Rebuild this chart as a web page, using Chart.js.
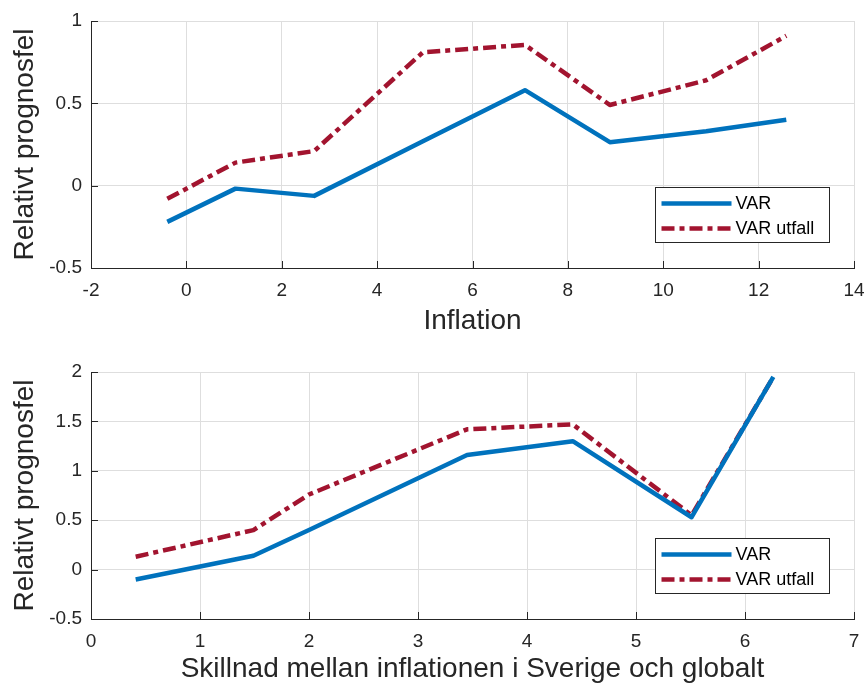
<!DOCTYPE html>
<html>
<head>
<meta charset="utf-8">
<script src="https://cdn.jsdelivr.net/npm/chart.js@4.4.1/dist/chart.umd.min.js"></script>
<style>
  html, body { margin: 0; padding: 0; background: #fff; overflow: hidden; }
  .wrap { position: absolute; left: 0; width: 867px; }
  #top { top: 0; height: 340px; }
  #bottom { top: 340px; height: 344px; }
</style>
</head>
<body>
<div class="wrap" id="top"><canvas id="chart1"></canvas></div>
<div class="wrap" id="bottom"><canvas id="chart2"></canvas></div>
<script>
// top panel: inflation
const inflX = [-0.4, 1.03, 2.68, 4.96, 7.1, 8.88, 10.9, 12.58]
const inflVar = [-0.22, -0.018, -0.062, 0.27, 0.58, 0.264, 0.33, 0.40]
const inflUtfall = [-0.08, 0.14, 0.21, 0.81, 0.855, 0.49, 0.64, 0.91]

// bottom panel: difference Sweden vs global
const diffX = [0.41, 1.49, 2.0, 3.45, 4.42, 5.51, 6.26]
const diffVar = [-0.10, 0.14, 0.40, 1.16, 1.30, 0.53, 1.95]
const diffUtfall = [0.13, 0.40, 0.76, 1.42, 1.47, 0.55, 1.95]

const seriesNames = ['VAR', 'VAR utfall']
const xTicks1 = [-2, 0, 2, 4, 6, 8, 10, 12, 14]
const yTicks1 = [-0.5, 0, 0.5, 1]
const xTicks2 = [0, 1, 2, 3, 4, 5, 6, 7]
const yTicks2 = [-0.5, 0, 0.5, 1, 1.5, 2]

const FONT = "'Liberation Sans', Arial, Helvetica, sans-serif"
const TEXT = '#262626'
const BLUE = '#0072BD'
const RED = '#A2142F'
const DASH = [13, 5, 5, 5]

function pts(xs, ys) {
  return xs.map((x, i) => ({ x: x, y: ys[i] }))
}

// inward tick marks, axis titles and the boxed legend (MATLAB look)
const decor = {
  id: 'decor',
  afterDraw(chart, args, opts) {
    const ctx = chart.ctx
    const a = chart.chartArea
    const xs = chart.scales.x
    const ys = chart.scales.y
    ctx.save()
    ctx.strokeStyle = TEXT
    ctx.lineWidth = 1
    ctx.beginPath()
    xs.ticks.forEach(t => {
      const px = Math.round(xs.getPixelForValue(t.value)) + 0.5
      ctx.moveTo(px, a.bottom)
      ctx.lineTo(px, a.bottom - 7)
    })
    ys.ticks.forEach(t => {
      const py = Math.round(ys.getPixelForValue(t.value)) + 0.5
      ctx.moveTo(a.left, py)
      ctx.lineTo(a.left + 7, py)
    })
    ctx.stroke()

    // axis titles
    ctx.fillStyle = TEXT
    ctx.font = '28px ' + FONT
    ctx.textAlign = 'center'
    ctx.textBaseline = 'alphabetic'
    ctx.fillText(opts.xTitle, (a.left + a.right) / 2, a.bottom + opts.xTitleGap)
    ctx.save()
    ctx.translate(opts.yTitleX, (a.top + a.bottom) / 2)
    ctx.rotate(-Math.PI / 2)
    ctx.textBaseline = 'middle'
    ctx.fillText(opts.yTitle, 0, 0)
    ctx.restore()

    // legend
    const w = 174, h = 55
    const bx = Math.round(a.right - 25 - w) + 0.5
    const by = Math.round(a.bottom - 26 - h) + 0.5
    ctx.fillStyle = '#fff'
    ctx.fillRect(bx, by, w, h)
    ctx.strokeStyle = TEXT
    ctx.strokeRect(bx, by, w, h)
    ctx.font = '18px ' + FONT
    ctx.textAlign = 'left'
    ctx.textBaseline = 'middle'
    chart.data.datasets.forEach((ds, i) => {
      const ry = by + 16 + i * 25
      ctx.save()
      ctx.strokeStyle = ds.borderColor
      ctx.lineWidth = ds.borderWidth
      ctx.setLineDash(ds.borderDash || [])
      ctx.beginPath()
      ctx.moveTo(bx + 6, ry)
      ctx.lineTo(bx + 76, ry)
      ctx.stroke()
      ctx.restore()
      ctx.fillStyle = '#000'
      ctx.fillText(ds.label, bx + 80, ry + 1)
    })
    ctx.restore()
  }
}

function makeChart(id, xs, varY, utfY, xTicks, yTicks, cfg) {
  const ctx = document.getElementById(id).getContext('2d')
  return new Chart(ctx, {
    type: 'line',
    data: {
      datasets: [
        {
          label: seriesNames[0],
          data: pts(xs, varY),
          borderColor: BLUE,
          borderWidth: 4.5,
          pointRadius: 0,
          borderJoinStyle: 'round',
          tension: 0,
        },
        {
          label: seriesNames[1],
          data: pts(xs, utfY),
          borderColor: RED,
          borderWidth: 4.5,
          borderDash: DASH,
          pointRadius: 0,
          borderJoinStyle: 'round',
          tension: 0,
        },
      ],
    },
    options: {
      responsive: true,
      maintainAspectRatio: false,
      animation: false,
      events: [],
      layout: { padding: { top: cfg.padTop, right: 13, left: 0, bottom: 0 } },
      plugins: {
        legend: { display: false },
        tooltip: { enabled: false },
        decor: cfg,
      },
      scales: {
        x: {
          type: 'linear',
          min: xTicks[0],
          max: xTicks[xTicks.length - 1],
          afterBuildTicks: s => { s.ticks = xTicks.map(v => ({ value: v })) },
          afterFit: s => {
            s.height = cfg.xHeight
            s.paddingLeft = 0
            s.paddingRight = 0
          },
          grid: { color: '#dedede', drawTicks: false },
          border: { color: TEXT, width: 1 },
          ticks: {
            padding: 11,
            color: TEXT,
            font: { family: FONT, size: 19 },
            maxRotation: 0,
            callback: v => String(v),
          },
        },
        y: {
          type: 'linear',
          min: yTicks[0],
          max: yTicks[yTicks.length - 1],
          afterBuildTicks: s => { s.ticks = yTicks.map(v => ({ value: v })) },
          afterFit: s => {
            s.width = 91
            s.paddingTop = 0
            s.paddingBottom = 0
          },
          grid: { color: '#dedede', drawTicks: false },
          border: { color: TEXT, width: 1 },
          ticks: {
            padding: 9,
            color: TEXT,
            font: { family: FONT, size: 19 },
            callback: v => String(v),
          },
        },
      },
    },
    plugins: [decor],
  })
}

makeChart('chart1', inflX, inflVar, inflUtfall, xTicks1, yTicks1, {
  padTop: 21, xHeight: 72, xTitle: 'Inflation', xTitleGap: 61,
  yTitle: 'Relativt prognosfel', yTitleX: 25,
})
makeChart('chart2', diffX, diffVar, diffUtfall, xTicks2, yTicks2, {
  padTop: 32, xHeight: 65, xTitle: 'Skillnad mellan inflationen i Sverige och globalt', xTitleGap: 58,
  yTitle: 'Relativt prognosfel', yTitleX: 25,
})
</script>
</body>
</html>
